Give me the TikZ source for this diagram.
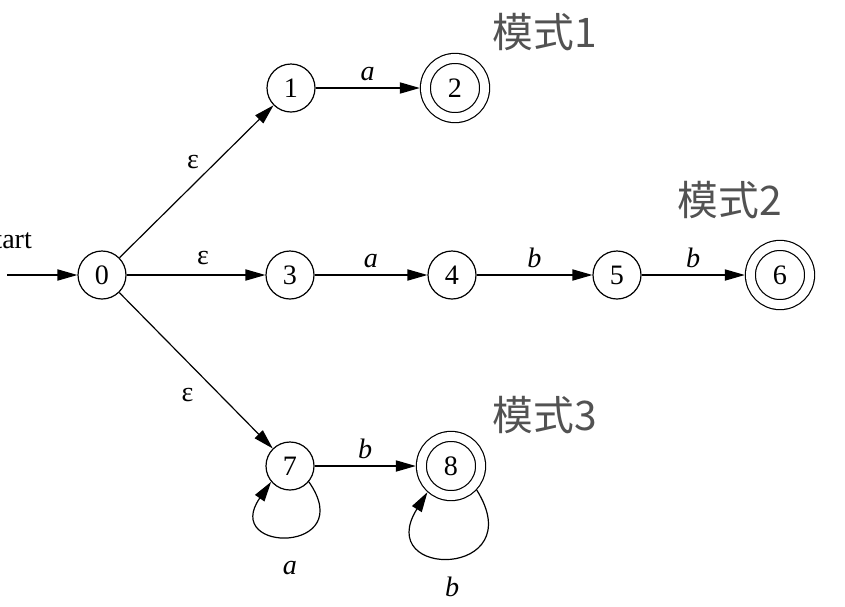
\documentclass[tikz,border=0pt]{standalone}
\usepackage{fontspec}
\setmainfont{Liberation Serif}
\newfontfamily\cjk{Noto Sans CJK SC}
\usetikzlibrary{arrows.meta,positioning}

\begin{document}
\begin{tikzpicture}[
    st/.style={circle, draw, line width=0.85pt, minimum size=1.2cm, inner sep=0pt, font=\fontsize{20}{22}\selectfont},
    acc/.style={st, double, double distance=0.22cm, minimum size=1.48cm, outer sep=0.14cm},
    lbl/.style={font=\fontsize{20}{22}\selectfont, inner sep=2pt},
    tag/.style={font=\cjk\fontsize{29}{32}\selectfont, text=black!68},
    flow/.style={-{Triangle[length=5mm,width=2.8mm]}, line width=0.85pt}
  ]
    \path[use as bounding box] (0,0) rectangle (21.125,-15.15);
    % states
    \node[st] (q0) at (2.55,-6.875) {0};
    \node[st] (q1) at (7.275,-2.2) {1};
    \node[acc] (q2) at (11.375,-2.2) {2};
    \node[st] (q3) at (7.25,-6.875) {3};
    \node[st] (q4) at (11.3,-6.875) {4};
    \node[st] (q5) at (15.425,-6.875) {5};
    \node[acc] (q6) at (19.5,-6.875) {6};
    \node[st] (q7) at (7.25,-11.65) {7};
    \node[acc] (q8) at (11.275,-11.65) {8};

    \coordinate (s) at (0.175,-6.875);
    \node[lbl, anchor=base east] (startlbl) at (0.875,-6.2) {start};

    % transitions
    \draw[flow] (s) -- (q0);
    \draw[flow] (q0) -- node[lbl, pos=0.55, above left=2pt] {ε} (q1);
    \draw[flow] (q0) -- node[lbl, pos=0.55, above=5pt] {ε} (q3);
    \draw[flow] (q0) -- node[lbl, pos=0.55, below left=7pt] {ε} (q7);
    \draw[flow] (q1) -- node[lbl, above=3pt] {\textit{a}} (q2);
    \draw[flow] (q3) -- node[lbl, above=3pt] {\textit{a}} (q4);
    \draw[flow] (q4) -- node[lbl, above=3pt] {\textit{b}} (q5);
    \draw[flow] (q5) -- node[lbl, above=3pt] {\textit{b}} (q6);
    \draw[flow] (q7) -- node[lbl, above=3pt] {\textit{b}} (q8);
    \draw[flow] (q7.-40) .. controls +(-55:2.2cm) and +(-125:2.2cm) .. (q7.-140)
      node[lbl, pos=0.5, below=0.55cm] {\textit{a}};
    \draw[flow] (q8.-43) .. controls +(-58:2.6cm) and +(-122:2.6cm) .. (q8.-132)
      node[lbl, pos=0.5, below=0.4cm] {\textit{b}};

    % pattern tags
    \node[tag] (p1) at (13.625,-0.8) {模式1};
    \node[tag] (p2) at (18.25,-5.0) {模式2};
    \node[tag] (p3) at (13.625,-10.375) {模式3};
  \end{tikzpicture}
\end{document}
